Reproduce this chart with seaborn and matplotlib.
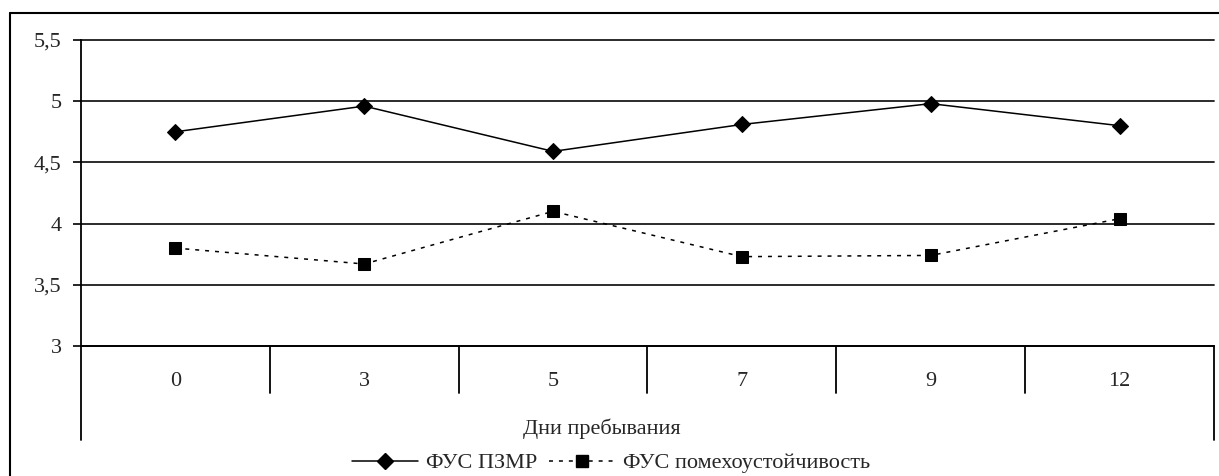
import numpy as np
import pandas as pd
import matplotlib
matplotlib.use("Agg")
import matplotlib.pyplot as plt
from matplotlib.lines import Line2D
import seaborn as sns

# ---- data ----
categories = ["0", "3", "5", "7", "9", "12"]
pzmr = [4.75, 4.96, 4.59, 4.81, 4.98, 4.80]
pomeh = [3.80, 3.67, 4.10, 3.73, 3.74, 4.04]
series_names = ["ФУС ПЗМР", "ФУС помехоустойчивость"]
y_ticks = [3, 3.5, 4, 4.5, 5, 5.5]
y_tick_labels = ["3", "3,5", "4", "4,5", "5", "5,5"]
x_title = "Дни пребывания"

sns.set_style("white")
plt.rcParams["font.family"] = ["Liberation Serif", "DejaVu Serif"]
FS = 16
plt.rcParams["font.size"] = FS

W, H = 1219, 476
fig = plt.figure(figsize=(W / 100, H / 100), dpi=100)
ax = fig.add_axes([81 / W, 1 - 346 / H, (1214 - 81) / W, (346 - 40) / H])

pos = np.arange(len(categories))
df = pd.DataFrame({"pos": np.concatenate([pos, pos]),
                   "value": pzmr + pomeh,
                   "series": [series_names[0]] * len(pos) + [series_names[1]] * len(pos)})

DASH = (0, (2.6, 3.9))
sns.lineplot(data=df[df.series == series_names[0]], x="pos", y="value", ax=ax,
             color="black", lw=1.1, marker="D", markersize=8.5, mec="black",
             legend=False, zorder=5)
sns.lineplot(data=df[df.series == series_names[1]], x="pos", y="value", ax=ax,
             color="black", lw=1.1, marker="s", markersize=8, mec="black",
             linestyle=DASH, legend=False, zorder=5)

ax.set_xlim(-0.5, len(categories) - 0.5)
ax.set_ylim(3, 5.5)
ax.set_yticks(y_ticks)
ax.set_yticklabels(y_tick_labels)
ax.set_xticks([])
ax.set_xlabel("")
ax.set_ylabel("")
ax.tick_params(axis="y", direction="out", length=6, width=1.2, pad=8,
               left=True, color="black", labelsize=FS)
ax.yaxis.grid(True, color="#1a1a1a", lw=1.3)
ax.xaxis.grid(False)
for gl in ax.get_ygridlines():
    gl.set_clip_on(False)
for s in ["top", "right", "bottom"]:
    ax.spines[s].set_visible(False)
ax.spines["left"].set_color("black")
ax.spines["left"].set_linewidth(1.3)

# table-like category axis below the plot
ah = 346 - 40
tr = ax.get_xaxis_transform()
ax.plot([-0.5, len(categories) - 0.5], [0, 0], transform=tr, color="black",
        lw=1.3, clip_on=False)
for b in np.arange(0.5, len(categories) - 0.5, 1.0):
    ax.plot([b, b], [0, -47 / ah], transform=tr, color="black", lw=1.3, clip_on=False)
ax.plot([len(categories) - 0.5] * 2, [0, -94 / ah], transform=tr, color="black",
        lw=1.3, clip_on=False)
ax.plot([-0.5, -0.5], [0, -94 / ah], transform=tr, color="black", lw=1.3, clip_on=False)
for p, c in zip(pos, categories):
    ax.text(p, -36 / ah, c, transform=tr, ha="center", va="center", fontsize=FS)
fig.text(602 / W, 1 - 429 / H, x_title, ha="center", va="center", fontsize=FS)

# legend
handles = [Line2D([], [], color="black", lw=1.1, marker="D", markersize=8.5),
           Line2D([], [], color="black", lw=1.1, marker="s", markersize=8,
                  linestyle=DASH)]
fig.legend(handles, series_names, loc="center", bbox_to_anchor=(611 / W, 1 - 463 / H),
           ncol=2, frameon=False, handlelength=3.0, handletextpad=0.35,
           columnspacing=0.5, fontsize=FS, borderpad=0)

# outer chart frame (clipped at right and bottom)
fig.add_artist(Line2D([10 / W, 10 / W], [1 - 13 / H, 0], transform=fig.transFigure,
                      color="black", lw=1.5))
fig.add_artist(Line2D([10 / W, 1], [1 - 13 / H, 1 - 13 / H], transform=fig.transFigure,
                      color="black", lw=1.5))

fig.savefig("out.png", dpi=100)
